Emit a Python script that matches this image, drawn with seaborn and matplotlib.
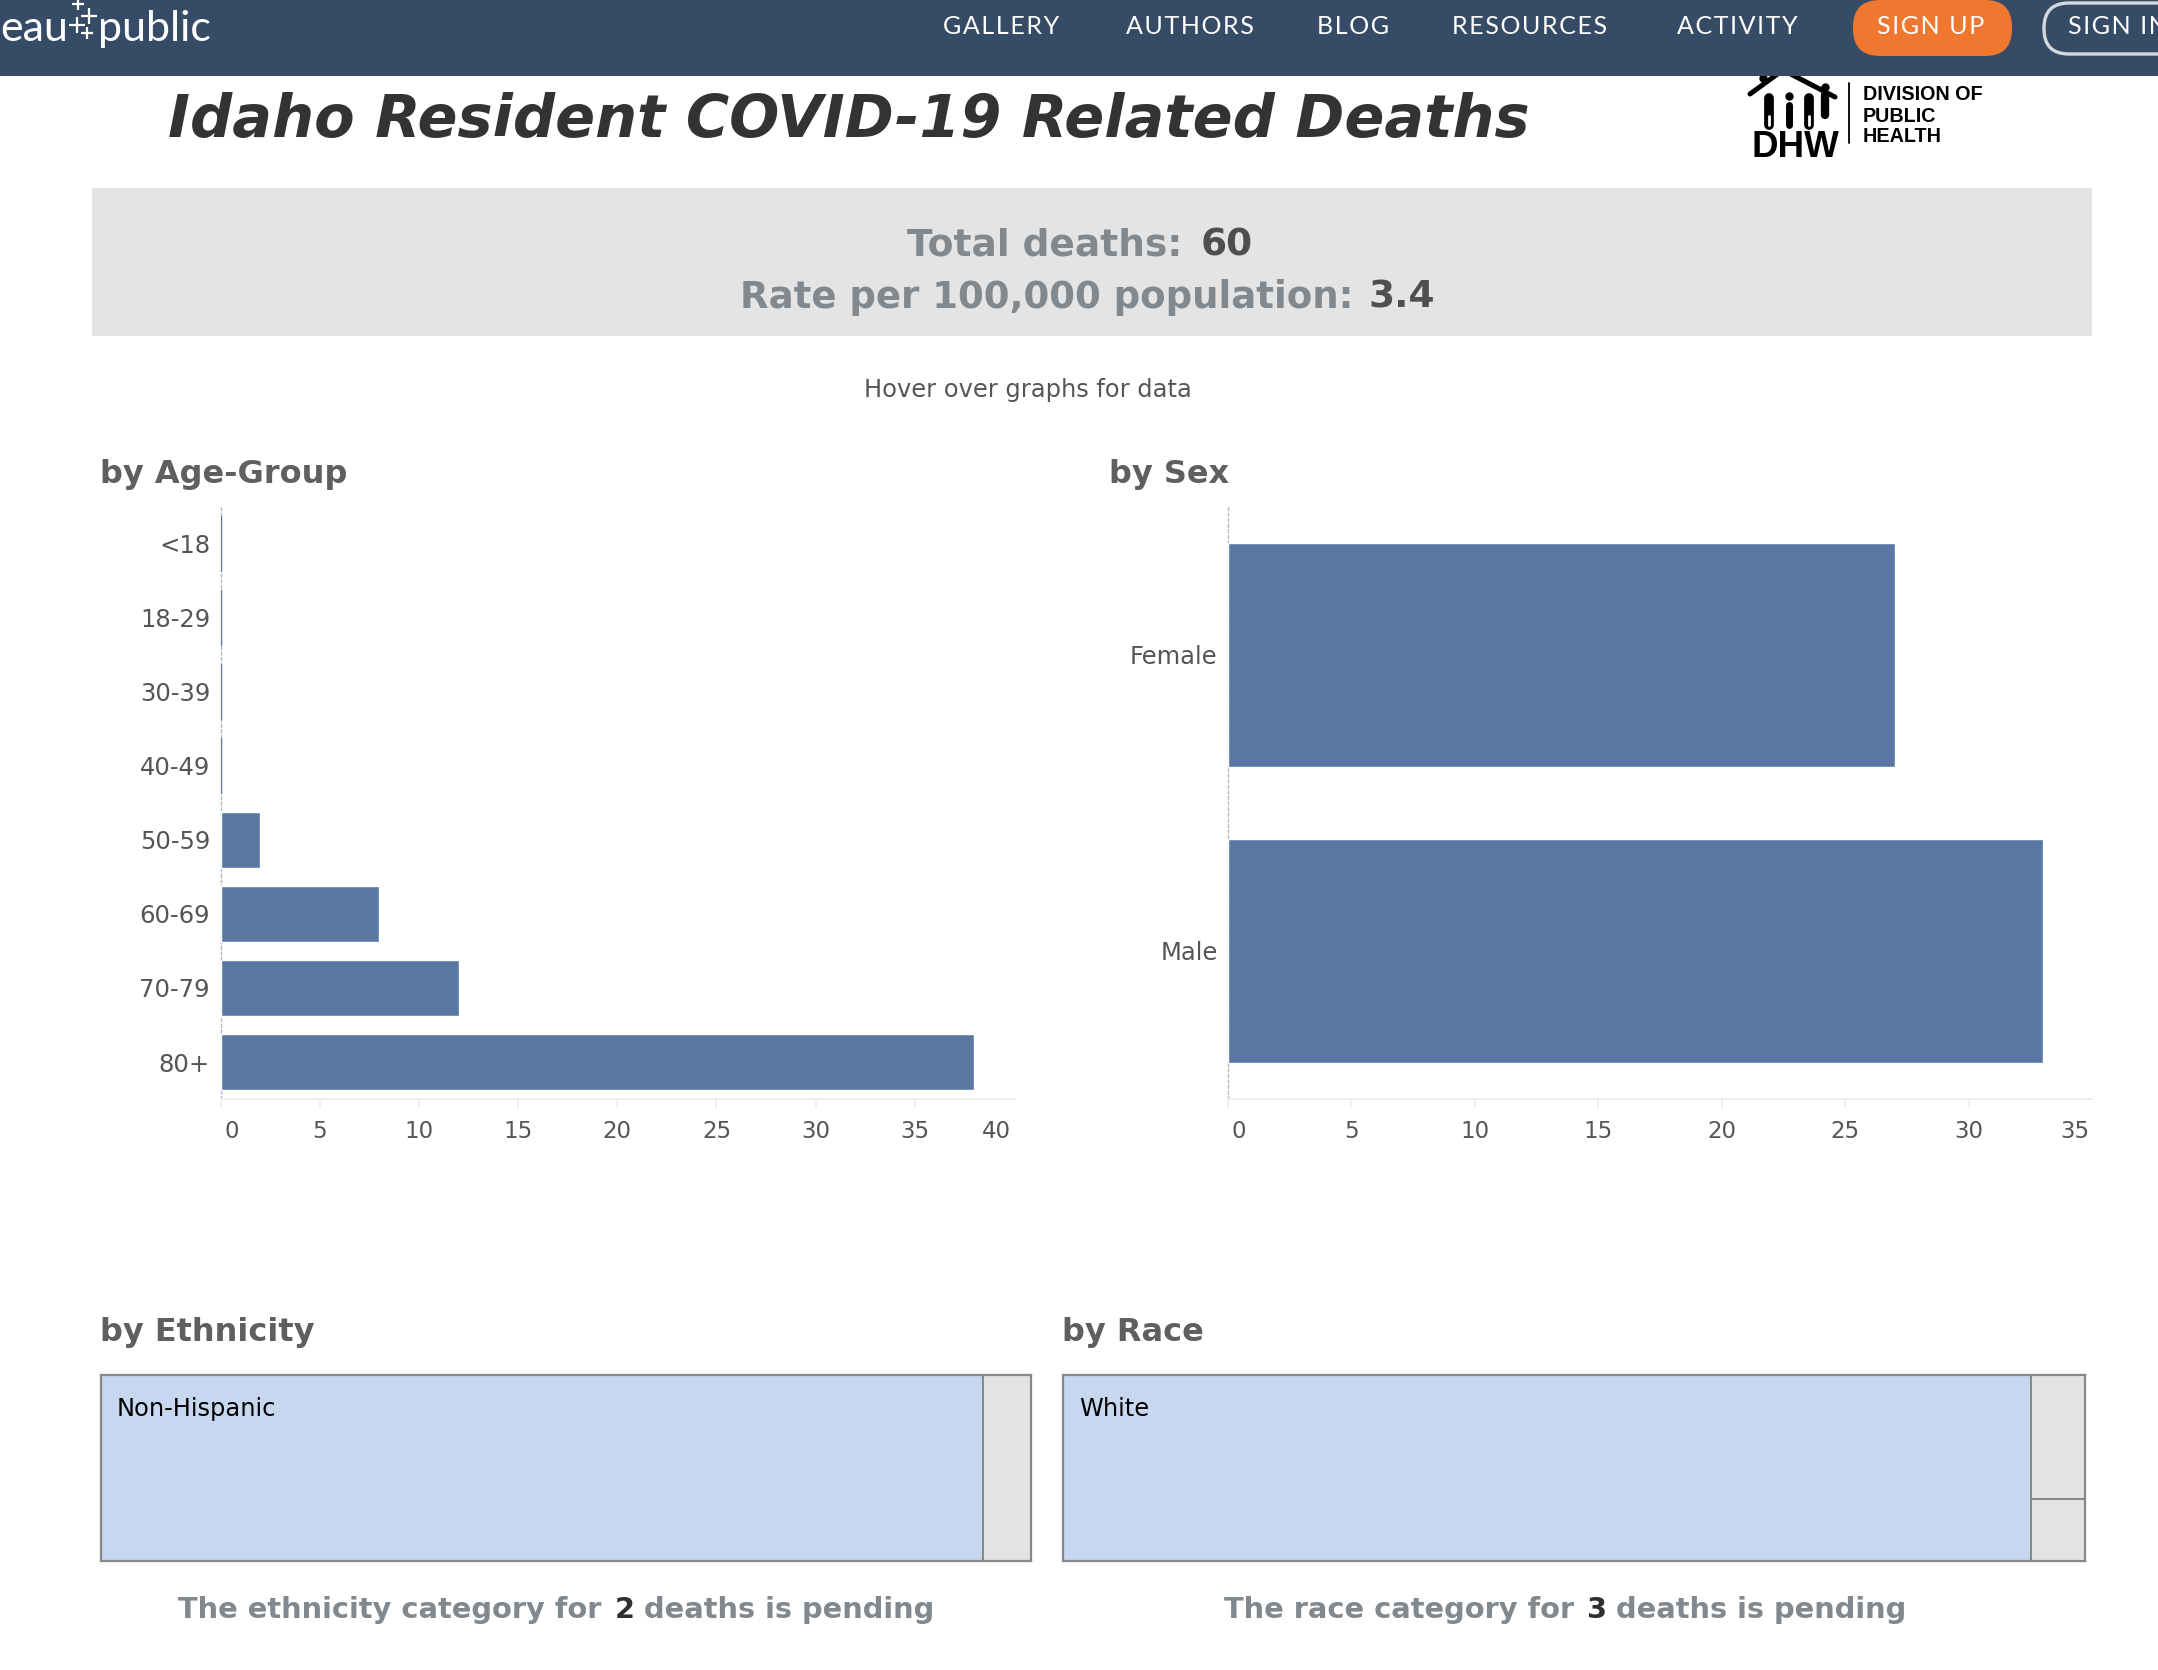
#%% packages
import matplotlib
matplotlib.use("Agg")
import matplotlib.pyplot as plt
from matplotlib.patches import Rectangle, FancyBboxPatch
from matplotlib.transforms import ScaledTranslation
import pandas as pd
import seaborn as sns

#%% values
age_groups = ["<18", "18-29", "30-39", "40-49", "50-59", "60-69", "70-79", "80+"]
age_deaths = [0, 0, 0, 0, 2, 8, 12, 38]
age_ticks = [0, 5, 10, 15, 20, 25, 30, 35, 40]

sexes = ["Female", "Male"]
sex_deaths = [27, 33]
sex_ticks = [0, 5, 10, 15, 20, 25, 30, 35]

ethnicity_labels = ["Non-Hispanic", ""]
ethnicity_deaths = [55, 3]
ethnicity_pending = 2

race_labels = ["White", "", ""]
race_deaths = [54, 2, 1]
race_pending = 3

total_deaths = 60
rate_per_100k = 3.4

nav_items = ["GALLERY", "AUTHORS", "BLOG", "RESOURCES", "ACTIVITY"]

#%% colours
BAR = "#5878A3"
NAV = "#364C66"
ORANGE = "#F0772F"
BLUE_CELL = "#C7D7EF"
GRAY_CELL = "#E3E3E3"
BORDER = "#888888"
MUTED = "#81888E"
TEXT = "#555555"

#%% figure in pixels
W, H = 2158, 1670
sns.set_theme(style="white")
plt.rcParams["font.family"] = ["DejaVu Sans"]
fig = plt.figure(figsize=(W / 100, H / 100), dpi=100, facecolor="white")

page = fig.add_axes([0, 0, 1, 1], zorder=0)
page.set_xlim(0, W)
page.set_ylim(H, 0)
page.axis("off")


def px_axes(left, top, right, bottom):
    ax = fig.add_axes([left / W, 1 - bottom / H, (right - left) / W, (bottom - top) / H], zorder=2)
    ax.patch.set_alpha(0)
    return ax


def label(x, y, s, size, color=TEXT, weight="normal", ha="left", va="center", **kw):
    return page.text(x, y, s, fontsize=size, color=color, fontweight=weight, ha=ha, va=va, **kw)


#%% bar panels
def bar_panel(ax, cats, vals, ticks, xmax):
    df = pd.DataFrame({"group": cats, "deaths": vals})
    sns.barplot(data=df, y="group", x="deaths", order=cats, color=BAR, saturation=1,
                width=0.755, orient="h", ax=ax)
    for bar in ax.patches:
        if bar.get_width() == 0:
            bar.set_edgecolor(BAR)
            bar.set_linewidth(1.6)
    ax.set_xlim(0, xmax)
    ax.set_ylim(len(cats) - 0.5, -0.5)
    ax.set_xlabel("")
    ax.set_ylabel("")
    ax.set_xticks(ticks)
    ax.tick_params(axis="x", length=6.5, width=1.2, color="#EEEEEE", labelsize=16.5,
                   labelcolor=TEXT, pad=8.8, bottom=True)
    ax.tick_params(axis="y", length=0, labelsize=17.5, labelcolor=TEXT, pad=7.5)
    for side in ["top", "right"]:
        ax.spines[side].set_visible(False)
    ax.spines["bottom"].set_color("#EEEEEE")
    ax.spines["bottom"].set_linewidth(1.4)
    ax.spines["left"].set_color("#BBBBBB")
    ax.spines["left"].set_linewidth(1)
    ax.spines["left"].set_linestyle((0, (2, 2)))
    ax.spines["left"].set_zorder(0)
    # first and last value labels stay inside the axis ends
    tick_labels = ax.get_xticklabels()
    tick_labels[0].set_ha("left")
    tick_labels[0].set_transform(tick_labels[0].get_transform() + ScaledTranslation(3.5 / 100, 0, fig.dpi_scale_trans))
    tick_labels[-1].set_ha("right")
    tick_labels[-1].set_transform(tick_labels[-1].get_transform() + ScaledTranslation(-3 / 100, 0, fig.dpi_scale_trans))
    ax.xaxis.get_major_ticks()[-1].tick1line.set_visible(False)


bar_panel(px_axes(220.5, 507, 1014, 1099), age_groups, age_deaths, age_ticks, 40)
bar_panel(px_axes(1228, 507, 2092, 1099), sexes, sex_deaths, sex_ticks, 35)


#%% treemaps
def treemap_panel(ax, labels, vals):
    total = sum(vals)
    main, rest = vals[0], vals[1:]
    ax.bar(0, 1, width=main, bottom=0, align="edge", color=BLUE_CELL, edgecolor=BORDER, linewidth=1.4)
    top = 1.0
    for v in rest:
        h = v / sum(rest)
        ax.bar(main, h, width=sum(rest), bottom=top - h, align="edge", color=GRAY_CELL,
               edgecolor=BORDER, linewidth=1.4)
        top -= h
    ax.set_xlim(0, total)
    ax.set_ylim(0, 1)
    ax.set_xticks([])
    ax.set_yticks([])
    for spine in ax.spines.values():
        spine.set_color(BORDER)
        spine.set_linewidth(1.6)
    ax.text(16 / (ax.get_position().width * W) * total, 1 - 34 / 187, labels[0],
            fontsize=17.4, color="black", va="center", ha="left")


treemap_panel(px_axes(101, 1375, 1031, 1561), ethnicity_labels, ethnicity_deaths)
treemap_panel(px_axes(1063, 1375, 2085, 1561), race_labels, race_deaths)

#%% page furniture
page.add_patch(Rectangle((92, 188), 2000, 148, color="#E4E4E4", lw=0, zorder=0))
label(168, 137, "Idaho Resident COVID-19 Related Deaths", 42.5, "#333333", "bold", va="baseline", style="italic")

label(1182, 245, "Total deaths:", 27, MUTED, "bold", ha="right")
label(1201, 245, f"{total_deaths}", 27, "#4F4F4F", "bold")
label(1353, 298, "Rate per 100,000 population:", 26.7, MUTED, "bold", ha="right")
label(1368, 298, f"{rate_per_100k}", 27, "#4F4F4F", "bold")
label(864, 390, "Hover over graphs for data", 17.4)

label(100, 474, "by Age-Group", 23, "#5F5F5F", "bold")
label(1109, 474, "by Sex", 23, "#5F5F5F", "bold")
label(100, 1332, "by Ethnicity", 23, "#5F5F5F", "bold")
label(1062, 1332, "by Race", 23, "#5F5F5F", "bold")

label(178, 1610, "The ethnicity category for", 20.8, MUTED, "bold")
label(615, 1610, f"{ethnicity_pending}", 20.8, "#2F2F2F", "bold")
label(644, 1610, "deaths is pending", 20.8, MUTED, "bold")
label(1224, 1610, "The race category for", 20.8, MUTED, "bold")
label(1586, 1610, f"{race_pending}", 20.8, "#2F2F2F", "bold")
label(1616, 1610, "deaths is pending", 20.8, MUTED, "bold")

#%% header bar
NAV_FONT = ["Lato", "DejaVu Sans"]
HAIR = "\u200a"  # the site's nav is letter-spaced
page.add_patch(Rectangle((0, 0), W, 76, color=NAV, lw=0, zorder=3))
page.add_patch(FancyBboxPatch((1853 + 27, 0 + 27), 159 - 54, 2, boxstyle="round,pad=27",
                              fc=ORANGE, ec="none", zorder=4))
page.add_patch(FancyBboxPatch((2044 + 25, 3 + 25), 200, 1, boxstyle="round,pad=25",
                              fc="none", ec="#D5D8DC", lw=2.4, zorder=4))
nav_x = [943, 1126, 1317, 1452, 1677]
for x, item in zip(nav_x, nav_items):
    label(x, 26.5, HAIR.join(item), 18, "white", family=NAV_FONT, zorder=5)
label(1877, 26.5, HAIR.join("SIGN UP"), 18, "white", family=NAV_FONT, zorder=5)
label(2068, 26.5, HAIR.join("SIGN IN"), 18, "white", family=NAV_FONT, zorder=5, clip_on=True)

label(68, 41, "eau", 31, "white", family="Lato", ha="right", va="baseline", zorder=5)
label(98, 41, "public", 31, "white", family="Lato", va="baseline", zorder=5)
for px, py, ms in [(78, 4, 9), (89, 16, 11), (77, 25, 11), (87, 33, 9)]:
    page.plot(px, py, marker="+", ms=ms, mew=1.6, color="white", zorder=5)

#%% division logo
LOGO = ["Liberation Sans", "DejaVu Sans"]
page.plot([1750, 1783, 1835], [94, 70, 97], color="black", lw=3.6, zorder=2, solid_capstyle="round")
for xs, ys, lw in [
    ([1769, 1769], [98, 125], 7), ([1789, 1789], [105, 125], 5),
    ([1809, 1809], [98, 125], 7), ([1825, 1825], [95, 115], 6),
    ([1769, 1769], [116, 125], 2), ([1809, 1809], [116, 125], 2),
]:
    page.plot(xs, ys, color="white" if lw == 2 else "black", lw=lw, zorder=2)
page.plot([1789, 1825, 1763], [96, 87, 78], ls="none", marker="o", ms=5, color="black", zorder=2)
label(1752, 157, "DHW", 26.5, "black", "bold", va="baseline", family=LOGO)
page.plot([1849, 1849], [83, 143], color="black", lw=1.3)
label(1863, 94, "DIVISION OF", 14.2, "black", "bold", family=LOGO)
label(1863, 116, "PUBLIC", 14.2, "black", "bold", family=LOGO)
label(1863, 137, "HEALTH", 14.2, "black", "bold", family=LOGO)

fig.savefig("out.png", dpi=100)
